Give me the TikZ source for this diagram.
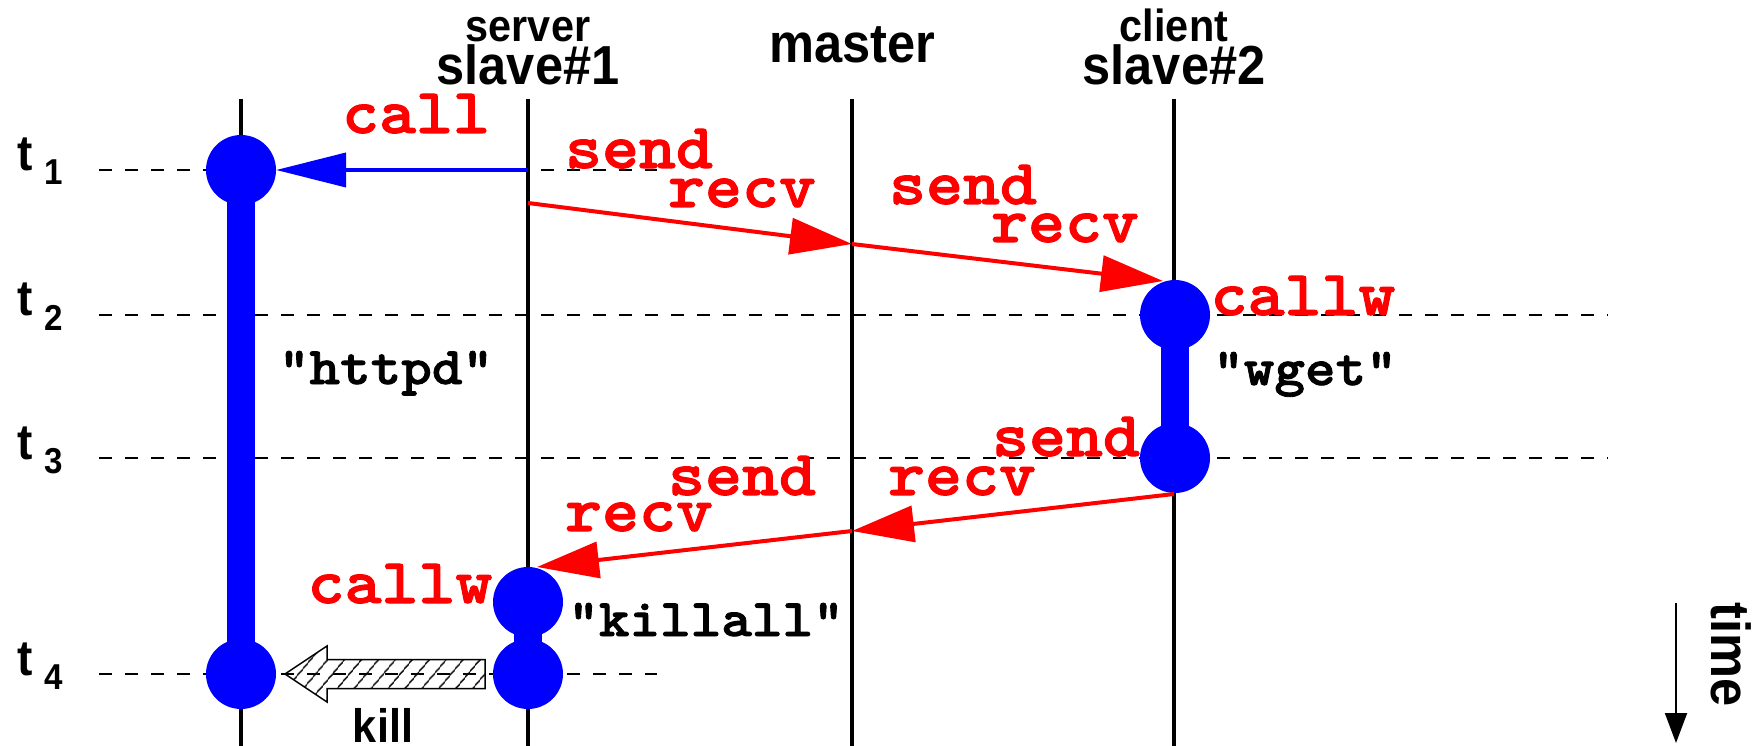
\documentclass[tikz,border=0pt]{standalone}
\usepackage{fontspec}
\setmainfont{Liberation Sans}
\newfontfamily\hv[FakeStretch=0.92]{Liberation Sans}
\newfontfamily\cour{lmmonolt10-bold}[Extension=.otf, FakeStretch=1.1, FakeBold=1.6]
\usetikzlibrary{arrows.meta,patterns.meta}
\begin{document}
\begin{tikzpicture}[x=1pt,y=-1pt,
  life/.style={line width=3.5pt},
  tline/.style={dash pattern=on 13pt off 13pt, line width=2.5pt},
  dot/.style={circle,fill=blue,minimum size=70pt,inner sep=0pt},
  bar/.style={blue,line width=28pt},
  msg/.style={red,line width=4pt,-{Triangle[length=62pt,width=36pt]}},
  callarr/.style={blue,line width=4pt,-{Triangle[length=70pt,width=34pt]}},
  rl/.style={red,font=\cour\fontsize{64}{64}\selectfont,anchor=base,inner sep=0pt},
  bl/.style={black,font=\cour\fontsize{53}{53}\selectfont,anchor=base,inner sep=0pt},
  hd/.style={font=\hv\bfseries\fontsize{55}{55}\selectfont,anchor=base,inner sep=0pt},
  hs/.style={font=\hv\bfseries\fontsize{45}{45}\selectfont,anchor=base,inner sep=0pt},
  tl/.style={font=\hv\bfseries\fontsize{50}{50}\selectfont,anchor=base west,inner sep=0pt},
  tn/.style={font=\hv\bfseries\fontsize{36}{36}\selectfont,anchor=base west,inner sep=0pt},
]
\useasboundingbox (0,0) rectangle (1757,746);

% lifelines
\coordinate (h0) at (241,99);  \coordinate (hE) at (241,746);
\coordinate (s0) at (528,99);  \coordinate (sE) at (528,746);
\coordinate (m0) at (852,99);  \coordinate (mE) at (852,746);
\coordinate (c0) at (1174,99); \coordinate (cE) at (1174,746);
\draw[life] (h0) -- (hE);
\draw[life] (s0) -- (sE);
\draw[life] (m0) -- (mE);
\draw[life] (c0) -- (cE);

% time lines
\coordinate (d1a) at (99,170);  \coordinate (d1b) at (657,170);
\coordinate (d2a) at (99,315);  \coordinate (d2b) at (1608,315);
\coordinate (d3a) at (99,458);  \coordinate (d3b) at (1608,458);
\coordinate (d4a) at (99,674);  \coordinate (d4b) at (657,674);
\draw[tline] (d1a) -- (d1b);
\draw[tline] (d2a) -- (d2b);
\draw[tline] (d3a) -- (d3b);
\draw[tline] (d4a) -- (d4b);

% t labels
\node[tl] (t1) at (17,171) {t}; \node[tn] (t1n) at (44,185) {1};
\node[tl] (t2) at (17,316) {t}; \node[tn] (t2n) at (44,330) {2};
\node[tl] (t3) at (17,459) {t}; \node[tn] (t3n) at (44,473) {3};
\node[tl] (t4) at (17,675) {t}; \node[tn] (t4n) at (44,689) {4};

% headers
\node[hs] (server) at (528,42) {server};
\node[hd] (slave1) at (528,85) {slave\#1};
\node[hd] (master) at (852,63) {master};
\node[hs] (client) at (1174,42) {client};
\node[hd] (slave2) at (1174,85) {slave\#2};

% activation bars and dots
\draw[bar] (241,170) -- (241,674);
\draw[bar] (1175,315) -- (1175,458);
\draw[bar] (528,602) -- (528,674);
\node[dot] (h1) at (241,170) {};
\node[dot] (h4) at (241,674) {};
\node[dot] (w1) at (1175,315) {};
\node[dot] (w2) at (1175,458) {};
\node[dot] (k1) at (528,602) {};
\node[dot] (k2) at (528,674) {};

% call arrow
\coordinate (sc) at (528,170);
\draw[callarr] (sc) -- (h1);

% messages
\coordinate (sa) at (528,203);
\coordinate (ma) at (852,244);
\coordinate (wt) at (1163,281);
\coordinate (cb) at (1174,494);
\coordinate (mb) at (852,531);
\coordinate (kt) at (537,567);
\draw[msg] (sa) -- (ma);
\draw[msg] (ma) -- (wt);
\draw[msg] (cb) -- (mb);
\draw[msg] (mb) -- (kt);

% kill arrow
\draw[line width=1.5pt, pattern={Lines[angle=50,distance=13pt,line width=1.5pt]}]
  (285,674) -- (327,646) -- (327,659.5) -- (485,659.5) -- (485,688.5)
  -- (327,688.5) -- (327,702) -- cycle;
\node[hd,font=\hv\bfseries\fontsize{47}{47}\selectfont] (kill) at (383,742) {kill};

% red labels
\node[rl] (lcall) at (416,133) {call};
\node[rl] (ls1) at (639,168) {send};
\node[rl] (lr1) at (742,207) {recv};
\node[rl] (ls2) at (963,204) {send};
\node[rl] (lr2) at (1065,242) {recv};
\node[rl] (lcw1) at (1303,315) {callw};
\node[rl] (ls3) at (1066,456) {send};
\node[rl] (ls4) at (742,495) {send};
\node[rl] (lr3) at (962,495) {recv};
\node[rl] (lr4) at (639,531) {recv};
\node[rl] (lcw2) at (400,603) {callw};

% black labels
\node[bl] (httpd) at (386,384) {"httpd"};
\node[bl] (wget) at (1305,385) {"wget"};
\node[bl] (killall) at (706,636) {"killall"};

% time arrow
\coordinate (ta) at (1676,603);
\coordinate (tb) at (1676,743);
\draw[line width=2pt,-{Triangle[length=30pt,width=22pt]}] (ta) -- (tb);
\node[hd,rotate=-90,anchor=center] (time) at (1731,655) {time};
\end{tikzpicture}
\end{document}
